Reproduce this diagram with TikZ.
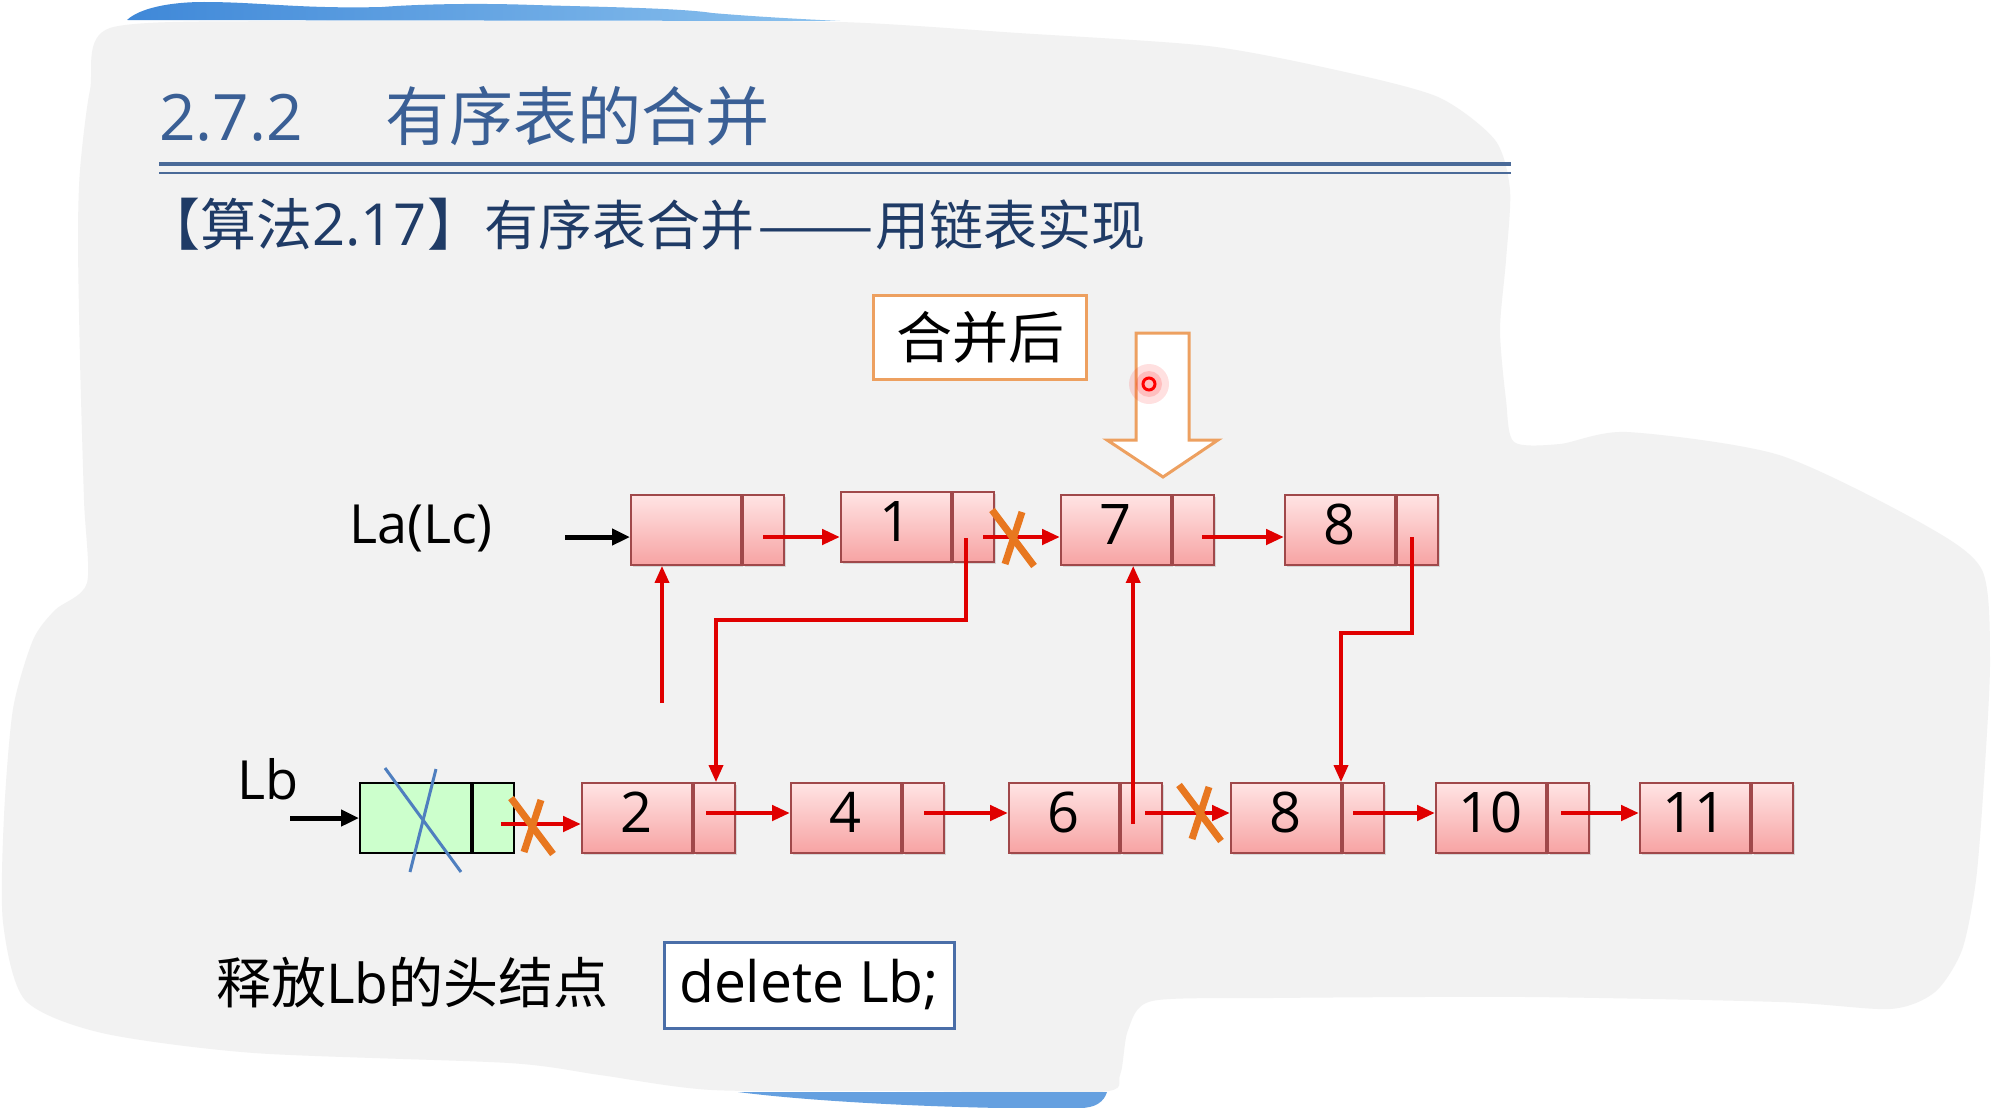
\documentclass[tikz,border=0pt]{standalone}
\usepackage{fontspec}
\setmainfont{Open Sans}
\newfontfamily\cjk{Noto Sans CJK SC}
\usetikzlibrary{arrows.meta,shadows,calc}
\definecolor{bggrey}{HTML}{F2F2F2}
\definecolor{titleblue}{HTML}{3A5F95}
\definecolor{subblue}{HTML}{1F3B66}
\definecolor{ruleblue}{HTML}{4A6A98}
\definecolor{nodeborder}{HTML}{A0484A}
\definecolor{pinktop}{HTML}{FFE4E4}
\definecolor{pinkbot}{HTML}{F7A3A3}
\definecolor{greenfill}{HTML}{CCFFCC}
\definecolor{arrred}{HTML}{E00000}
\definecolor{xorange}{HTML}{E8771F}
\definecolor{boxorange}{HTML}{EDA060}
\definecolor{delblue}{HTML}{4A6EA8}
\definecolor{stripeA}{HTML}{3F88D8}
\definecolor{stripeB}{HTML}{8CC2EE}
\definecolor{xblue}{HTML}{4F7FBF}
\newcommand\numfont{\fontsize{56}{60}\selectfont}
\newcommand\mycross[1]{%
  \draw[xmark] ([shift={(-21,-28)}]#1) -- ([shift={(21,28)}]#1);
  \draw[xmark] ([shift={(9,-26)}]#1) -- ([shift={(-8,26)}]#1);}
\begin{document}
\begin{tikzpicture}[x=1pt,y=-1pt,
  dat/.style={draw=nodeborder, line width=1.8pt, top color=pinktop, bottom color=pinkbot,
    minimum width=110pt, minimum height=70pt, inner sep=0pt, anchor=west, font=\numfont,
    text height=41pt, text depth=12pt,
    drop shadow={shadow xshift=2pt, shadow yshift=-2pt, opacity=0.25}},
  ptr/.style={dat, minimum width=41pt},
  gdat/.style={draw=black, line width=1.8pt, fill=greenfill, minimum width=111pt,
    minimum height=70pt, inner sep=0pt, anchor=west},
  gptr/.style={gdat, minimum width=41pt},
  rarr/.style={draw=arrred, line width=4.5pt, -{Triangle[length=18pt,width=15pt]}},
  rarrv/.style={draw=arrred, line width=3.5pt, -{Triangle[length=17pt,width=14pt]}},
  barr/.style={draw=black, line width=5pt, -{Triangle[length=18pt,width=16pt]}},
  xmark/.style={draw=xorange, line width=7pt},
  bluex/.style={draw=xblue, line width=3pt},
  lbl/.style={anchor=base west, inner sep=0pt, font=\fontsize{54}{60}\selectfont},
  sub/.style={anchor=base west, inner sep=0pt, text=subblue, font=\cjk\fontsize{54}{60}\selectfont}
]
\useasboundingbox (0,0) rectangle (1994,1108);
\fill[white] (0,0) rectangle (1994,1108);
% background blob
\fill[bggrey] plot[smooth cycle, tension=0.45] coordinates {
 (110,28) (300,21) (600,21) (840,22) (1018,33) (1208,46) (1336,70) (1438,97)
 (1495,140) (1510,190) (1506,260) (1500,330) (1506,400) (1514,442) (1560,444)
 (1627,432) (1779,455) (1923,524) (1982,570) (1990,660) (1984,780) (1976,880)
 (1962,950) (1935,992) (1890,1009) (1780,1002) (1527,997) (1272,998) (1152,1001)
 (1128,1030) (1120,1075) (1100,1092) (900,1091) (712,1090) (600,1075) (509,1063)
 (254,1053) (102,1033) (25,1000) (3,922) (4,816) (13,709) (33,640) (55,610)
 (87,583) (84,500) (80,360) (78,240) (80,170) (90,90)};
% blue stripes
\shade[left color=stripeA, right color=stripeB] (127,20) .. controls (140,8) and (170,2) .. (204,2)
  .. controls (260,2) and (300,9) .. (382,7) .. controls (420,4) and (480,3) .. (534,5)
  .. controls (600,7) and (680,8) .. (712,13) .. controls (760,17) and (800,19) .. (840,21) -- cycle;
\fill[stripeA!80!white] (738,1092) -- (1107,1092) .. controls (1104,1102) and (1095,1108) .. (1080,1108)
  -- (1000,1108) .. controls (900,1106) and (800,1100) .. (738,1092) -- cycle;
% title rules
\draw[line width=4pt, ruleblue] (159,164) -- (1511,164);
\draw[line width=2pt, ruleblue] (159,173) -- (1511,173);
% titles
\node[anchor=base west, inner sep=0pt, text=titleblue, font=\fontsize{64}{70}\selectfont] (t1) at (159,140) {2.7.2};
\node[anchor=base west, inner sep=0pt, text=titleblue, font=\cjk\fontsize{64}{70}\selectfont] (t2) at (385,140) {有序表的合并};
\node[sub, font=\cjk\fontsize{56}{60}\selectfont] (t3a) at (144,245) {【算法{\fontspec{Open Sans}\fontsize{58}{60}\selectfont 2.17}】};
\node[sub] (t3b) at (484,245) {有序表合并};
\node[sub] (t3c) at (757,245) {\scalebox{1.29}[1]{——}};
\node[sub] (t3d) at (875,245) {用链表实现};
% merged box and hollow arrow
\node[draw=boxorange, line width=3pt, fill=white, minimum width=213pt, minimum height=84pt,
  inner sep=0pt, font=\cjk\fontsize{56}{60}\selectfont] (hb) at (980,337) {合并后};
\draw[draw=boxorange, line width=3pt, fill=white] (1136,333) -- (1189,333) -- (1189,440)
  -- (1218,440) -- (1163,477) -- (1107,440) -- (1136,440) -- cycle;
% labels
\node[lbl] (la) at (349,543) {La(Lc)};
\node[lbl] (lb) at (237,799) {Lb};
% La row
\node[dat] (h) at (630,530) {}; \node[ptr] (hp) at (h.east) {};
\node[dat] (a1) at (840,527) {1}; \node[ptr] (a1p) at (a1.east) {};
\node[dat] (a7) at (1060,530) {7}; \node[ptr] (a7p) at (a7.east) {};
\node[dat] (a8) at (1284,530) {8}; \node[ptr] (a8p) at (a8.east) {};
% Lb row
\node[gdat] (g) at (359,818) {}; \node[gptr] (gp) at (g.east) {};
\node[dat] (b2) at (581,818) {2}; \node[ptr] (b2p) at (b2.east) {};
\node[dat] (b4) at (790,818) {4}; \node[ptr] (b4p) at (b4.east) {};
\node[dat] (b6) at (1008,818) {6}; \node[ptr] (b6p) at (b6.east) {};
\node[dat] (b8) at (1230,818) {8}; \node[ptr] (b8p) at (b8.east) {};
\node[dat] (b10) at (1435,818) {10}; \node[ptr] (b10p) at (b10.east) {};
\node[dat] (b11) at (1639,818) {11}; \node[ptr] (b11p) at (b11.east) {};
% blue cross on Lb head
\draw[bluex] (385,768) -- (461,872);
\draw[bluex] (436,769) -- (410,872);
% connectors
\coordinate (la0) at (565,537);
\draw[barr] (la0) -- (la0 -| h.west);
\coordinate (s1) at ([yshift=-7pt]hp.center);
\draw[rarr] (s1) -- (s1 -| a1.west);
\coordinate (s2) at ([xshift=10pt,yshift=-10pt]a1p.center);
\draw[rarr] (s2) -- (s2 -| a7.west);
\coordinate (s3) at ([xshift=9pt,yshift=-7pt]a7p.center);
\draw[rarr] (s3) -- (s3 -| a8.west);
\coordinate (d1) at ([xshift=-7pt,yshift=-11pt]a1p.center);
\coordinate (k1) at (716,620);
\draw[rarrv] (d1) |- (k1) -- (k1 |- b2p.north);
\coordinate (d2) at ([xshift=-5pt,yshift=-7pt]a8p.center);
\coordinate (k2) at (1341,633);
\draw[rarrv] (d2) |- (k2) -- (k2 |- b8p.north);
\coordinate (u1) at (662,703);
\draw[rarrv] (u1) -- (u1 |- h.south);
\coordinate (u2) at ([xshift=-8pt,yshift=-6pt]b6p.center);
\draw[rarrv] (u2) -- (u2 |- a7.south);
\coordinate (lb0) at (290,818);
\draw[barr] (lb0) -- (lb0 -| g.west);
\coordinate (s4) at ([xshift=8pt,yshift=-6pt]gp.center);
\draw[rarr] (s4) -- (s4 -| b2.west);
\coordinate (s5) at ([xshift=-8pt,yshift=5pt]b2p.center);
\draw[rarr] (s5) -- (s5 -| b4.west);
\coordinate (s6) at ([xshift=1pt,yshift=5pt]b4p.center);
\draw[rarr] (s6) -- (s6 -| b6.west);
\coordinate (s7) at ([xshift=4pt,yshift=5pt]b6p.center);
\draw[rarr] (s7) -- (s7 -| b8.west);
\coordinate (s8) at ([xshift=-10pt,yshift=5pt]b8p.center);
\draw[rarr] (s8) -- (s8 -| b10.west);
\coordinate (s9) at ([xshift=-7pt,yshift=5pt]b10p.center);
\draw[rarr] (s9) -- (s9 -| b11.west);
% orange crosses
\coordinate (x1) at (1013,538);
\coordinate (x2) at (532,826);
\coordinate (x3) at (1200,813);
\mycross{x1}
\mycross{x2}
\mycross{x3}
% bottom texts
\node[anchor=base west, inner sep=0pt, font=\fontsize{55}{60}\selectfont] (rel) at (216,1003) {{\cjk 释放}Lb{\cjk 的头结点}};
\node[draw=delblue, line width=3pt, fill=white, minimum width=290pt, minimum height=86pt,
  inner sep=0pt, font=\fontsize{57}{62}\selectfont] (del) at (809,985) {delete Lb;};
% pointer dot
\coordinate (dot) at (1149,384);
\fill[red, opacity=0.12] (dot) circle (20);
\fill[red, opacity=0.15] (dot) circle (13);
\draw[red, line width=3pt] (dot) circle (6);
\end{tikzpicture}
\end{document}
